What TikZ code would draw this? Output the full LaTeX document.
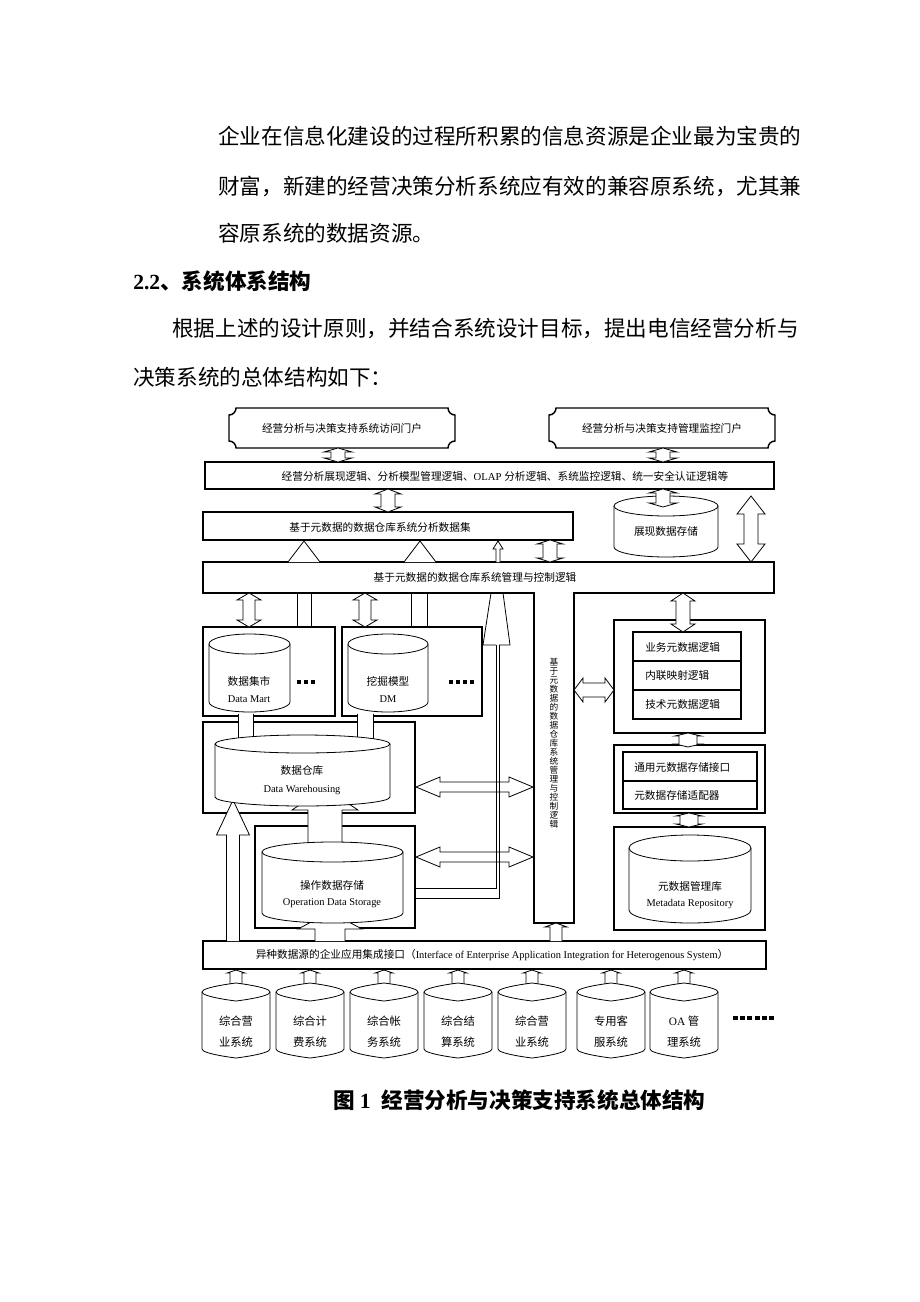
\documentclass[tikz,border=0pt]{standalone}
\usepackage{fontspec}
\setmainfont{Liberation Serif}
\newfontfamily\cjk{Noto Sans CJK SC}
\newcommand{\bxn}[5]{\node[bx, rectangle, inner sep=0pt, outer sep=0pt, minimum width={(#4-#2)*0.75pt}, minimum height={(#5-#3)*0.75pt}] (#1) at ({(#2+#4)/2},{(#3+#5)/2}) {};}
\newcommand{\vdarr}[6]{\filldraw[arr] (#1,#2) -- ({#1+#5},{#2+#6}) -- ({#1+#4},{#2+#6}) -- ({#1+#4},{#3-#6}) -- ({#1+#5},{#3-#6}) -- (#1,#3) -- ({#1-#5},{#3-#6}) -- ({#1-#4},{#3-#6}) -- ({#1-#4},{#2+#6}) -- ({#1-#5},{#2+#6}) -- cycle;}
\newcommand{\hdarr}[6]{\filldraw[arr] (#2,#1) -- ({#2+#6},{#1-#5}) -- ({#2+#6},{#1-#4}) -- ({#3-#6},{#1-#4}) -- ({#3-#6},{#1-#5}) -- (#3,#1) -- ({#3-#6},{#1+#5}) -- ({#3-#6},{#1+#4}) -- ({#2+#6},{#1+#4}) -- ({#2+#6},{#1+#5}) -- cycle;}
\newcommand{\uparr}[6]{\filldraw[arr] ({#1-#4},#3) -- ({#1-#4},{#2+#6}) -- ({#1-#5},{#2+#6}) -- (#1,#2) -- ({#1+#5},{#2+#6}) -- ({#1+#4},{#2+#6}) -- ({#1+#4},#3);}
\newcommand{\pipev}[4]{\fill[white] (#1,#3) rectangle (#2,#4); \draw[ln] (#1,#3) -- (#1,#4) (#2,#3) -- (#2,#4);}
\newcommand{\dbcyl}[5]{%
 \pgfmathsetmacro{\cyM}{(#1+#3)/2}%
 \pgfmathsetmacro{\cyT}{#2+#5}%
 \pgfmathsetmacro{\cyB}{#4-#5}%
 \pgfmathsetmacro{\cyKx}{0.5523*(#3-#1)/2}%
 \pgfmathsetmacro{\cyKy}{0.5523*#5}%
 \filldraw[cyl] (#1,\cyT) -- (#1,\cyB)
   .. controls (#1,{\cyB+\cyKy}) and ({\cyM-\cyKx},#4) .. (\cyM,#4)
   .. controls ({\cyM+\cyKx},#4) and (#3,{\cyB+\cyKy}) .. (#3,\cyB)
   -- (#3,\cyT)
   .. controls (#3,{\cyT-\cyKy}) and ({\cyM+\cyKx},#2) .. (\cyM,#2)
   .. controls ({\cyM-\cyKx},#2) and (#1,{\cyT-\cyKy}) .. cycle;
 \draw[cyl] (#1,\cyT) .. controls (#1,{\cyT+\cyKy}) and ({\cyM-\cyKx},{\cyT+#5}) .. (\cyM,{\cyT+#5})
   .. controls ({\cyM+\cyKx},{\cyT+#5}) and (#3,{\cyT+\cyKy}) .. (#3,\cyT);}
\newcommand{\portal}[4]{\filldraw[draw, line width=1.1pt, fill=white]
 ({#1+7},#2) -- ({#3-7},#2) .. controls ({#3-7},{#2+3.9}) and ({#3-3.9},{#2+7}) .. (#3,{#2+7})
 -- (#3,{#4-7}) .. controls ({#3-3.9},{#4-7}) and ({#3-7},{#4-3.9}) .. ({#3-7},#4)
 -- ({#1+7},#4) .. controls ({#1+7},{#4-3.9}) and ({#1+3.9},{#4-7}) .. (#1,{#4-7})
 -- (#1,{#2+7}) .. controls ({#1+3.9},{#2+7}) and ({#1+7},{#2+3.9}) .. cycle;}
\begin{document}
\begin{tikzpicture}[x=0.75pt,y=-0.75pt,
  bx/.style={draw, line width=1.3pt, fill=white},
  ln/.style={draw, line width=0.6pt},
  arr/.style={draw, line width=0.6pt, fill=white, line join=miter},
  cyl/.style={draw, line width=0.6pt, fill=white},
  zh/.style={font=\cjk\fontsize{8}{10}\selectfont, inner sep=0pt},
  en/.style={font=\fontsize{7.8}{10}\selectfont, inner sep=0pt},
  body/.style={font=\cjk\fontsize{16.2}{20}\selectfont, inner sep=0pt, anchor=west},
  bodyb/.style={font=\cjk\bfseries\fontsize{16.2}{20}\selectfont, inner sep=0pt, anchor=west}]
\useasboundingbox[fill=white] (0,0) rectangle (920,1302);
% page text
\node[body] (p1) at (218,136) {企业在信息化建设的过程所积累的信息资源是企业最为宝贵的};
\node[body] (p2) at (218,186) {财富，新建的经营决策分析系统应有效的兼容原系统，尤其兼};
\node[body] (p3) at (218,233) {容原系统的数据资源。};
\node[bodyb] (h1) at (133,281) {{\rmfamily\bfseries 2.2}、系统体系结构};
\node[body] (p4) at (172,329) {根据上述的设计原则，并结合系统设计目标，提出电信经营分析与};
\node[body] (p5) at (133,377) {决策系统的总体结构如下：};
\node[bodyb] (cap) at (333,1100) {图 {\rmfamily\bfseries 1}\hspace{0.5em}经营分析与决策支持系统总体结构};
% portals
\portal{229}{408}{455}{448}
\portal{549}{408}{775}{448}
% bars
\bxn{bar1}{205}{462}{774}{489}
\bxn{bar2}{203}{512}{573}{540}
\filldraw[bx] (203,562) -- (774,562) -- (774,593) -- (574,593) -- (574,923) -- (534,923) -- (534,593) -- (203,593) -- cycle;
% left boxes
\bxn{dmartbox}{203}{627}{335}{716}
\bxn{dmbox}{342}{627}{482}{716}
\bxn{dwbox}{203}{722}{415}{813}
\bxn{odsbox}{255}{826}{415}{928}
% metadata boxes
\bxn{boxa}{614}{620}{765}{733}
\bxn{a1}{633}{632}{741}{661}
\bxn{a2}{633}{661}{741}{690}
\bxn{a3}{633}{690}{741}{719}
\bxn{boxb}{614}{745}{765}{813}
\bxn{b1}{623}{752}{757}{781}
\bxn{b2}{623}{781}{757}{809}
\bxn{boxc}{614}{827}{765}{930}
\bxn{ifbar}{203}{941}{766}{969}
% arrows top
\vdarr{338}{448}{462}{7}{14}{4}
\vdarr{663}{448}{462}{7}{14}{4}
\vdarr{388}{489}{512}{7}{13}{5}
\vdarr{751}{496}{562}{7}{14}{18}
\filldraw[arr] (288,562) -- (304,541) -- (320,562);
\filldraw[arr] (404,562) -- (420,541) -- (436,562);
\uparr{498}{541}{562}{2}{5}{8}
\vdarr{550}{540}{562}{7}{13}{4}
% below bar3
\vdarr{249}{593}{627}{6}{12}{7}
\draw[ln] (297,593) -- (297,627) (311,593) -- (311,627);
\vdarr{365}{593}{627}{6}{12}{7}
\draw[ln] (411,593) -- (411,627) (427,593) -- (427,627);
\vdarr{683}{593}{632}{7}{12}{8}
\hdarr{690}{574}{614}{7}{12}{9}
\vdarr{688}{733}{747}{9}{13}{3}
\vdarr{689}{813}{827}{9}{13}{3}
\uparr{556}{923}{941}{6}{11}{4}
% pipes to DW
\pipev{238}{253}{714}{742}
\pipev{357}{373}{714}{742}
% up arrows into DW / ODS
\uparr{233}{800}{941}{6.5}{16.5}{35}
\uparr{325}{788}{848}{17}{33}{22}
\uparr{330}{912}{941}{15}{32}{17}
% source pipes
\foreach \c in {236,310,384,458,532,611,684} {\uparr{\c}{970}{992}{6}{9}{3}}
% cylinders
\dbcyl{209}{634}{290}{712}{10}
\dbcyl{348}{634}{428}{712}{10}
\dbcyl{215}{735}{390}{806}{9}
\dbcyl{262}{842}{403}{923}{10}
\dbcyl{629}{835}{751}{923}{13}
\dbcyl{614}{496}{718}{557}{10}
\vdarr{663}{489}{507}{7}{14}{4}
\foreach \c in {236,310,384,458,532,611,684} {\dbcyl{\c-34}{983}{\c+34}{1058}{9}}
% horizontal double arrows
\hdarr{787}{416}{533}{5}{10}{24}
\hdarr{857}{416}{533}{5}{10}{24}
% ODS L-pipe with arrow head
\draw[ln] (416,888) -- (496,888) -- (496,645) (416,898) -- (499,898) -- (499,645);
\draw[ln] (496,645) -- (483,645) -- (491,593) (499,645) -- (510,645) -- (503,593);
% dots
\foreach \i in {0,1,2} {\fill (297+\i*7,680) rectangle (301+\i*7,684);}
\foreach \i in {0,1,2,3} {\fill (449+\i*7,680) rectangle (453+\i*7,684);}
\foreach \i in {0,...,5} {\fill (733+\i*7.2,1016) rectangle (738+\i*7.2,1019.5);}
% texts
\node[zh] (tp1) at (342,428) {经营分析与决策支持系统访问门户};
\node[zh] (tp2) at (662,428) {经营分析与决策支持管理监控门户};
\node[zh] (tb1) at (505,476) {经营分析展现逻辑、分析模型管理逻辑、{\rmfamily OLAP }分析逻辑、系统监控逻辑、统一安全认证逻辑等};
\node[zh] (tb2) at (380,527) {基于元数据的数据仓库系统分析数据集};
\node[zh] (tcy) at (666,531) {展现数据存储};
\node[zh] (tb3) at (475,577) {基于元数据的数据仓库系统管理与控制逻辑};
\node[inner sep=0pt, align=center, font=\cjk\fontsize{6.5}{6.75}\selectfont] (tvt) at (554,743) {基\\于\\元\\数\\据\\的\\数\\据\\仓\\库\\系\\统\\管\\理\\与\\控\\制\\逻\\辑};
\node[zh] (tdm1) at (249,681) {数据集市};
\node[en] (tdm2) at (249,699) {Data Mart};
\node[zh] (tmm1) at (388,681) {挖掘模型};
\node[en] (tmm2) at (388,699) {DM};
\node[zh] (tdw1) at (302,770) {数据仓库};
\node[en] (tdw2) at (302,790) {Data Warehousing};
\node[zh] (tod1) at (332,885) {操作数据存储};
\node[en] (tod2) at (332,903) {Operation Data Storage};
\node[zh, anchor=west] (ta1) at (645,647) {业务元数据逻辑};
\node[zh, anchor=west] (ta2) at (645,675) {内联映射逻辑};
\node[zh, anchor=west] (ta3) at (645,704) {技术元数据逻辑};
\node[zh, anchor=west] (tbb1) at (634,767) {通用元数据存储接口};
\node[zh, anchor=west] (tbb2) at (634,795) {元数据存储适配器};
\node[zh] (tmr1) at (690,886) {元数据管理库};
\node[en] (tmr2) at (690,904) {Metadata Repository};
\node[zh] (tif) at (492,955) {异种数据源的企业应用集成接口（{\rmfamily\fontsize{7.8}{10}\selectfont Interface of Enterprise Application Integration for Heterogenous System}）};
\foreach \c/\la/\lb/\k in {236/综合营/业系统/1,310/综合计/费系统/2,384/综合帐/务系统/3,458/综合结/算系统/4,532/综合营/业系统/5,611/专用客/服系统/6,684/{{\rmfamily OA} 管}/理系统/7} {
  \node[zh, font=\cjk\fontsize{8.5}{10}\selectfont] (sa\k) at (\c,1021) {\la};
  \node[zh, font=\cjk\fontsize{8.5}{10}\selectfont] (sb\k) at (\c,1042) {\lb};
}
\end{tikzpicture}
\end{document}
